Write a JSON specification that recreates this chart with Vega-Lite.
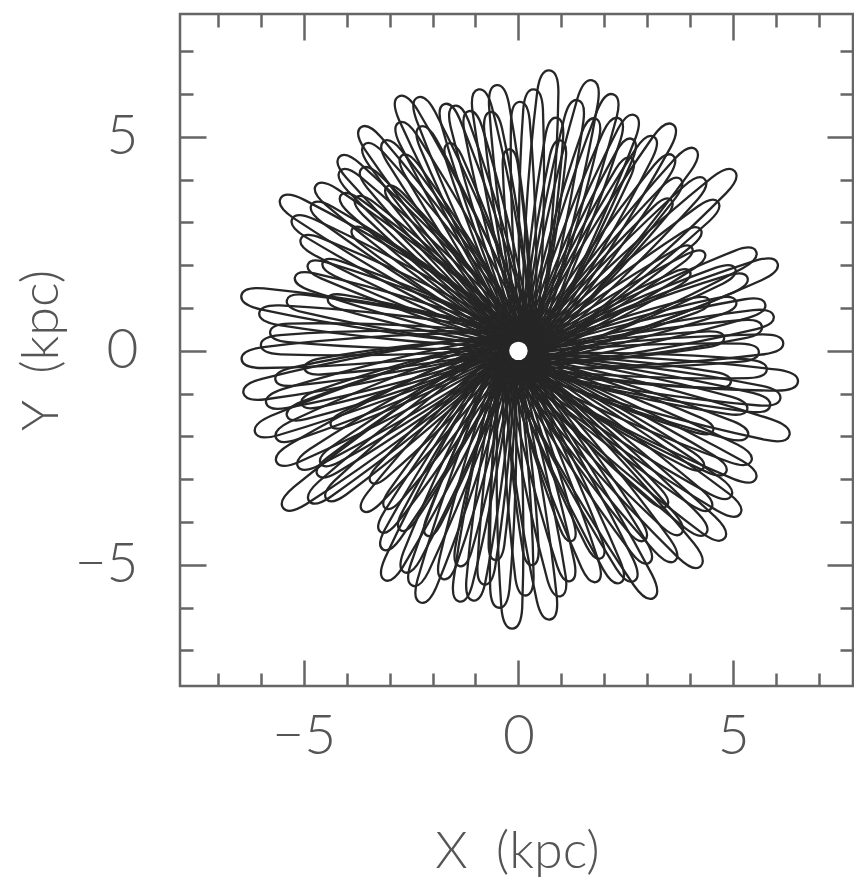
{
  "$schema": "https://vega.github.io/schema/vega-lite/v6.json",
  "autosize": "none",
  "padding": {"left": 180, "top": 14, "right": 1, "bottom": 194},
  "width": 673,
  "height": 672,
  "background": "white",
  "config": {
    "view": {"stroke": "#666666", "strokeWidth": 2.5},
    "axis": {
      "labelFont": "Lato", "labelFontWeight": 300, "labelFontSize": 55, "labelColor": "#555555",
      "titleFont": "Lato", "titleFontWeight": 300, "titleFontSize": 52, "titleColor": "#555555",
      "labelOverlap": false, "labelFlush": false
    }
  },
  "datasets": {
    "petals": [
      {"dir": 4, "r": 6.17}, {"dir": 8, "r": 5.7}, {"dir": 13, "r": 5.85}, {"dir": 20, "r": 5.6},
      {"dir": 21, "r": 6.37}, {"dir": 25, "r": 6.0}, {"dir": 30, "r": 4.9}, {"dir": 36, "r": 5.1},
      {"dir": 42, "r": 6.55}, {"dir": 51, "r": 6.25}, {"dir": 58, "r": 6.38}, {"dir": 66, "r": 6.12},
      {"dir": 72, "r": 6.37}, {"dir": 77, "r": 6.53}, {"dir": 86, "r": 6.57}, {"dir": 92, "r": 5.8},
      {"dir": 97, "r": 6.21}, {"dir": 101, "r": 6.16}, {"dir": 107, "r": 5.9}, {"dir": 114, "r": 6.35},
      {"dir": 117.5, "r": 6.55}, {"dir": 127.5, "r": 6.37}, {"dir": 135, "r": 6.15}, {"dir": 143, "r": 6.09},
      {"dir": 149.6, "r": 6.58}, {"dir": 155, "r": 5.7}, {"dir": 160, "r": 5.3}, {"dir": 164, "r": 5.48},
      {"dir": 170, "r": 5.52}, {"dir": 171, "r": 6.58}, {"dir": 178, "r": 5.8}, {"dir": 184, "r": 6.45},
      {"dir": 191, "r": 6.48}, {"dir": 199.5, "r": 6.42}, {"dir": 207, "r": 6.2}, {"dir": 216, "r": 6.59},
      {"dir": 220, "r": 5.65}, {"dir": 228, "r": 5.2}, {"dir": 235, "r": 5.3}, {"dir": 242, "r": 6.18},
      {"dir": 251, "r": 6.29}, {"dir": 262, "r": 5.91}, {"dir": 271, "r": 6.47}, {"dir": 279, "r": 6.3},
      {"dir": 285, "r": 5.5}, {"dir": 291, "r": 5.68}, {"dir": 296, "r": 5.9}, {"dir": 301, "r": 6.56},
      {"dir": 312.5, "r": 6.57}, {"dir": 320, "r": 6.49}, {"dir": 326, "r": 6.41}, {"dir": 334, "r": 6.28},
      {"dir": 345, "r": 6.61}, {"dir": 350, "r": 6.0}, {"dir": 356, "r": 6.55},
      {"dir": 6, "r": 4.8}, {"dir": 17, "r": 4.6}, {"dir": 27, "r": 4.4}, {"dir": 47, "r": 5.0},
      {"dir": 62, "r": 5.2}, {"dir": 81, "r": 5.0}, {"dir": 95, "r": 4.7}, {"dir": 111, "r": 5.1},
      {"dir": 123, "r": 5.3}, {"dir": 131, "r": 4.9}, {"dir": 139, "r": 5.2}, {"dir": 146, "r": 4.8},
      {"dir": 167, "r": 4.6}, {"dir": 187, "r": 5.0}, {"dir": 196, "r": 5.2}, {"dir": 204, "r": 4.7},
      {"dir": 212, "r": 5.3}, {"dir": 224, "r": 4.6}, {"dir": 239, "r": 5.0}, {"dir": 246, "r": 4.8},
      {"dir": 257, "r": 5.2}, {"dir": 266, "r": 4.9}, {"dir": 276, "r": 5.0}, {"dir": 288, "r": 4.6},
      {"dir": 306, "r": 5.3}, {"dir": 316, "r": 5.0}, {"dir": 330, "r": 5.1}, {"dir": 340, "r": 4.9},
      {"dir": 354, "r": 5.0},
      {"dir": 2, "r": 5.6}, {"dir": 10, "r": 6.0}, {"dir": 15, "r": 5.2}, {"dir": 23, "r": 5.4},
      {"dir": 33, "r": 4.7}, {"dir": 39, "r": 5.8}, {"dir": 45, "r": 5.9}, {"dir": 49, "r": 5.5},
      {"dir": 54, "r": 5.8}, {"dir": 60, "r": 5.9}, {"dir": 64, "r": 5.6}, {"dir": 69, "r": 5.9},
      {"dir": 74, "r": 5.7}, {"dir": 79, "r": 6.0}, {"dir": 83, "r": 5.5}, {"dir": 89, "r": 6.1},
      {"dir": 99, "r": 5.6}, {"dir": 104, "r": 5.7}, {"dir": 109, "r": 6.0}, {"dir": 116, "r": 5.7},
      {"dir": 120, "r": 6.0}, {"dir": 125, "r": 5.8}, {"dir": 129, "r": 6.0}, {"dir": 133, "r": 5.6},
      {"dir": 137, "r": 5.9}, {"dir": 141, "r": 5.5}, {"dir": 147, "r": 5.9}, {"dir": 152, "r": 6.1},
      {"dir": 158, "r": 5.0}, {"dir": 174, "r": 6.1}, {"dir": 181, "r": 6.0}, {"dir": 189, "r": 5.7},
      {"dir": 194, "r": 6.0}, {"dir": 198, "r": 5.6}, {"dir": 202, "r": 6.0}, {"dir": 210, "r": 5.8},
      {"dir": 214, "r": 5.5}, {"dir": 218, "r": 6.0}, {"dir": 232, "r": 4.8}, {"dir": 238, "r": 5.6},
      {"dir": 245, "r": 5.8}, {"dir": 248, "r": 6.0}, {"dir": 254, "r": 5.6}, {"dir": 259, "r": 6.0},
      {"dir": 264, "r": 5.5}, {"dir": 268, "r": 6.0}, {"dir": 274, "r": 5.7}, {"dir": 282, "r": 5.8},
      {"dir": 294, "r": 5.2}, {"dir": 299, "r": 6.0}, {"dir": 304, "r": 5.8}, {"dir": 309, "r": 6.1},
      {"dir": 314, "r": 5.7}, {"dir": 318, "r": 6.1}, {"dir": 323, "r": 5.8}, {"dir": 328, "r": 6.0},
      {"dir": 332, "r": 5.6}, {"dir": 337, "r": 6.0}, {"dir": 342, "r": 5.7}, {"dir": 348, "r": 5.5},
      {"dir": 352, "r": 6.2}, {"dir": 358, "r": 5.8}
    ],
    "centre": [{"x": 0, "y": 0}]
  },
  "layer": [
    {
      "data": {"name": "petals"},
      "mark": {
        "type": "point",
        "shape": "M-0.06,0.08C-0.06,0.05,-0.02,0.035,0.1,0.025C0.6,-0.02,1.3,-0.025,1.85,0.005C1.95,0.012,2,0.04,2,0.08C2,0.12,1.95,0.148,1.85,0.155C1.3,0.185,0.6,0.18,0.1,0.135C-0.02,0.125,-0.06,0.11,-0.06,0.08Z",
        "filled": false,
        "stroke": "#262626",
        "strokeWidth": 2.3,
        "opacity": 1
      },
      "encoding": {
        "x": {
          "datum": 0, "type": "quantitative",
          "scale": {"domain": [-7.88, 7.79], "nice": false, "zero": false},
          "axis": {
            "values": [-7, -6, -5, -4, -3, -2, -1, 0, 1, 2, 3, 4, 5, 6, 7],
            "ticks": false, "domain": false,
            "grid": true, "gridColor": "#666666", "gridWidth": 2.5,
            "gridDash": {"condition": {"test": "datum.value % 5 === 0", "value": [26, 620, 26]}, "value": [13, 646, 13]},
            "labelExpr": "datum.value % 5 === 0 ? datum.label : ''",
            "labelPadding": 24, "labelBaseline": "top",
            "title": "X\u00a0\u00a0(kpc)",
            "titleX": 337, "titleY": 181, "titleAlign": "center", "titleBaseline": "alphabetic"
          }
        },
        "y": {
          "datum": 0, "type": "quantitative",
          "scale": {"domain": [-7.83, 7.87], "nice": false, "zero": false},
          "axis": {
            "values": [-7, -6, -5, -4, -3, -2, -1, 0, 1, 2, 3, 4, 5, 6, 7],
            "ticks": false, "domain": false,
            "grid": true, "gridColor": "#666666", "gridWidth": 2.5,
            "gridDash": {"condition": {"test": "datum.value % 5 === 0", "value": [26, 621, 26]}, "value": [13, 647, 13]},
            "labelExpr": "datum.value % 5 === 0 ? datum.label : ''",
            "labelPadding": 42, "labelBaseline": "middle", "labelAlign": "right",
            "title": "Y\u00a0\u00a0(kpc)",
            "titleAngle": 270, "titleX": -123, "titleY": 336, "titleAlign": "center", "titleBaseline": "alphabetic"
          }
        },
        "angle": {"field": "dir", "type": "quantitative", "scale": {"domain": [0, 360], "range": [360, 0]}},
        "size": {"field": "r", "type": "quantitative", "scale": {"type": "pow", "exponent": 2, "domain": [0, 8], "range": [0, 117800]}, "legend": null}
      }
    },
    {
      "data": {"name": "centre"},
      "mark": {"type": "point", "shape": "circle", "filled": true, "fill": "white", "strokeWidth": 0, "opacity": 1, "size": 340},
      "encoding": {
        "x": {"field": "x", "type": "quantitative"},
        "y": {"field": "y", "type": "quantitative"}
      }
    }
  ]
}
